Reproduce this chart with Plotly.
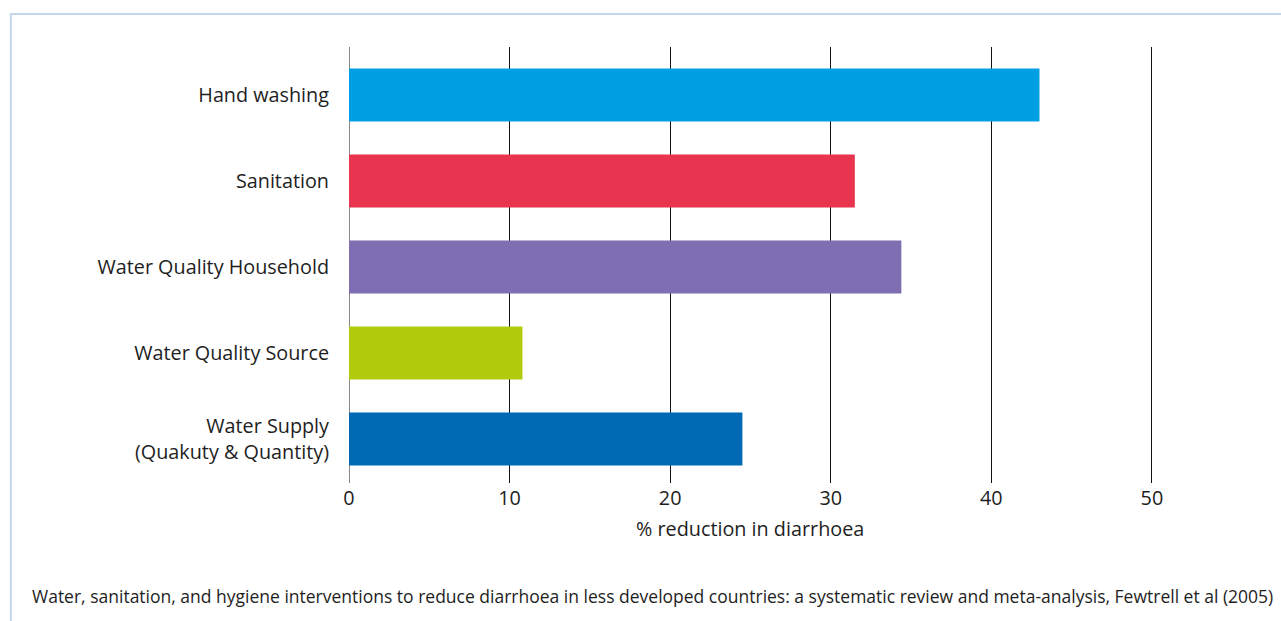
import plotly.graph_objects as go

categories = ["Hand washing", "Sanitation", "Water Quality Household",
              "Water Quality Source", "Water Supply<br>(Quakuty & Quantity)"]
values = [43.0, 31.5, 34.4, 10.8, 24.5]
colors = ["#009fe3", "#e8344e", "#7f6fb2", "#b2cb0c", "#0069b4"]
x_ticks = [0, 10, 20, 30, 40, 50]
x_title = "% reduction in diarrhoea"
footnote = ("Water, sanitation, and hygiene interventions to reduce diarrhoea in less developed "
            "countries: a systematic review and meta-analysis, Fewtrell et al (2005)")

W, H = 1281, 621
L, T = 349, 47
B_px = 483
XMAX = 52
PX_PER_UNIT = 16.05
R_px = L + XMAX * PX_PER_UNIT
FONT = "Open Sans"
FS = 19.8

def px_x(p):
    return (p - L) / (R_px - L)

def px_y(p):
    return (B_px - p) / (B_px - T)

fig = go.Figure(go.Bar(
    x=values, y=categories, orientation="h",
    marker=dict(color=colors, line=dict(width=0)),
    width=0.616,
))

fig.update_layout(
    width=W, height=H,
    margin=dict(l=L, r=W - R_px, t=T, b=H - B_px, pad=0),
    paper_bgcolor="white", plot_bgcolor="white",
    font=dict(family=FONT, size=FS, color="#1e1e1e"),
    showlegend=False,
    bargap=0.38,
    xaxis=dict(range=[0, XMAX], tickvals=x_ticks, showgrid=True,
               gridcolor="#111111", gridwidth=1.4, zeroline=False,
               showline=False, ticks="", ticklabelstandoff=1,
               tickfont=dict(size=FS, color="#1e1e1e")),
    yaxis=dict(range=[4.512, -0.558], type="category", showgrid=False,
               zeroline=False, showline=False, ticks="",
               ticklabelstandoff=19, tickfont=dict(size=FS, color="#1e1e1e")),
    shapes=[
        dict(type="rect", xref="paper", yref="paper",
             x0=px_x(11), x1=px_x(1300), y0=px_y(640), y1=px_y(14),
             line=dict(color="#c5d6ee", width=2), layer="below"),
        dict(type="line", xref="x", yref="paper", x0=0, x1=0, y0=0, y1=1,
             line=dict(color="#555555", width=1.4), layer="below"),
    ],
    annotations=[
        dict(text=x_title, xref="x", yref="paper", x=25, y=px_y(528),
             showarrow=False, xanchor="center", yanchor="middle",
             font=dict(size=FS, color="#1e1e1e")),
        dict(text=footnote, xref="paper", yref="paper", x=px_x(30), y=px_y(596),
             showarrow=False, xanchor="left", yanchor="middle",
             font=dict(size=17.5, color="#1e1e1e")),
    ],
)

fig.write_html("out.html")
